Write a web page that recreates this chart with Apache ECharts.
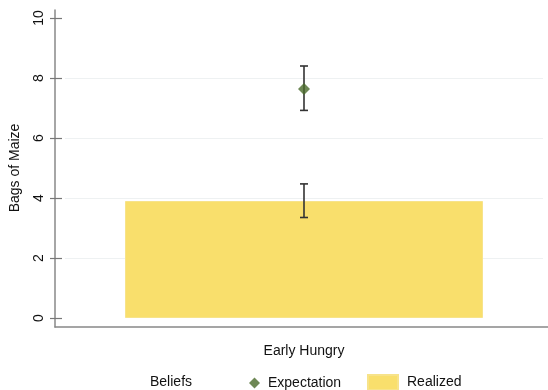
<!DOCTYPE html>
<html>
<head>
<meta charset="utf-8">
<script src="https://cdn.jsdelivr.net/npm/echarts@6/dist/echarts.min.js"></script>
<style>
  html, body { margin: 0; padding: 0; background: #fff; }
  #chart { width: 548px; height: 390px; }
</style>
</head>
<body>
<div id="chart"></div>
<script>
// Bags of maize: expected vs realized, with confidence intervals
const categories = ['Early Hungry'];
const realized = [3.9];
const realizedLow = [3.35];
const realizedHigh = [4.47];
const expectation = [7.63];
const expectationLow = [6.92];
const expectationHigh = [8.4];
const yTicks = [0, 2, 4, 6, 8, 10];

const FONT = '"Liberation Sans", Arial, sans-serif';
const chart = echarts.init(document.getElementById('chart'));

// error bar drawn as a vertical whisker with small caps
function errorBar(params, api) {
  const x = api.value(0);
  const lo = api.coord([x, api.value(1)]);
  const hi = api.coord([x, api.value(2)]);
  const cap = 4;
  const style = { stroke: '#333', lineWidth: 1.6 };
  return {
    type: 'group',
    children: [
      { type: 'line', shape: { x1: lo[0], y1: lo[1], x2: hi[0], y2: hi[1] }, style },
      { type: 'line', shape: { x1: lo[0] - cap, y1: lo[1], x2: lo[0] + cap, y2: lo[1] }, style },
      { type: 'line', shape: { x1: hi[0] - cap, y1: hi[1], x2: hi[0] + cap, y2: hi[1] }, style }
    ]
  };
}

const option = {
  animation: false,
  textStyle: { fontFamily: FONT },
  grid: [
    // frame: axis lines that extend slightly beyond the data range
    { left: 55, right: 0, top: 10, bottom: 63 },
    // data region: 0..10
    { left: 55, right: 5, top: 18, bottom: 72 }
  ],
  xAxis: [
    {
      gridIndex: 0, type: 'category', data: categories,
      axisLine: { show: true, lineStyle: { color: '#888', width: 1.5 } },
      axisTick: { show: false }, axisLabel: { show: false }, splitLine: { show: false }
    },
    {
      gridIndex: 1, type: 'category', data: categories,
      axisLine: { show: false }, axisTick: { show: false },
      axisLabel: { show: true, color: '#111', fontSize: 14, margin: 26, fontFamily: FONT }
    }
  ],
  yAxis: [
    {
      gridIndex: 0, type: 'value', min: 0, max: 1,
      axisLine: { show: true, lineStyle: { color: '#888', width: 1.5 } },
      axisTick: { show: false }, axisLabel: { show: false }, splitLine: { show: false }
    },
    {
      gridIndex: 1, type: 'value', min: yTicks[0], max: yTicks[yTicks.length - 1], interval: 2,
      offset: 3,
      name: 'Bags of Maize', nameLocation: 'middle', nameGap: 40, nameRotate: 90,
      nameTextStyle: { color: '#111', fontSize: 14, fontFamily: FONT },
      axisLine: { show: false },
      axisTick: { show: true, length: 12, lineStyle: { color: '#777', width: 1.2 } },
      axisLabel: { color: '#111', fontSize: 14, rotate: 90, margin: 16, fontFamily: FONT },
      splitLine: { show: true, showMinLine: false, showMaxLine: false,
                   lineStyle: { color: '#eef1f2', width: 1 } }
    }
  ],
  legend: [
    {
      data: [{ name: 'Expectation', icon: 'diamond' }],
      left: 249, bottom: 0, padding: 0, itemWidth: 11, itemHeight: 11, itemGap: 6,
      textStyle: { color: '#111', fontSize: 14, fontFamily: FONT, padding: [1, 0, 0, 3] }
    },
    {
      data: [{ name: 'Realized', icon: 'rect' }],
      left: 367, bottom: -1, padding: 0, itemWidth: 30, itemHeight: 15, itemGap: 6,
      textStyle: { color: '#111', fontSize: 14, fontFamily: FONT, padding: [2, 0, 0, 4] }
    }
  ],
  graphic: [
    {
      type: 'text', left: 150, bottom: 1,
      style: { text: 'Beliefs', fill: '#111', fontSize: 14, fontFamily: FONT }
    }
  ],
  series: [
    {
      name: 'Realized', type: 'bar', xAxisIndex: 1, yAxisIndex: 1,
      data: realized, barWidth: 358,
      itemStyle: { color: '#f9df6c', borderColor: '#f7e38a', borderWidth: 1 },
      z: 1
    },
    {
      name: 'Realized CI', type: 'custom', xAxisIndex: 1, yAxisIndex: 1,
      renderItem: errorBar,
      data: categories.map((c, i) => [i, realizedLow[i], realizedHigh[i]]),
      z: 3
    },
    {
      name: 'Expectation CI', type: 'custom', xAxisIndex: 1, yAxisIndex: 1,
      renderItem: errorBar,
      data: categories.map((c, i) => [i, expectationLow[i], expectationHigh[i]]),
      z: 3
    },
    {
      name: 'Expectation', type: 'scatter', xAxisIndex: 1, yAxisIndex: 1,
      data: expectation, symbol: 'diamond', symbolSize: 12,
      itemStyle: { color: '#4a6a2a' },
      z: 4
    }
  ]
};

chart.setOption(option);
</script>
</body>
</html>
